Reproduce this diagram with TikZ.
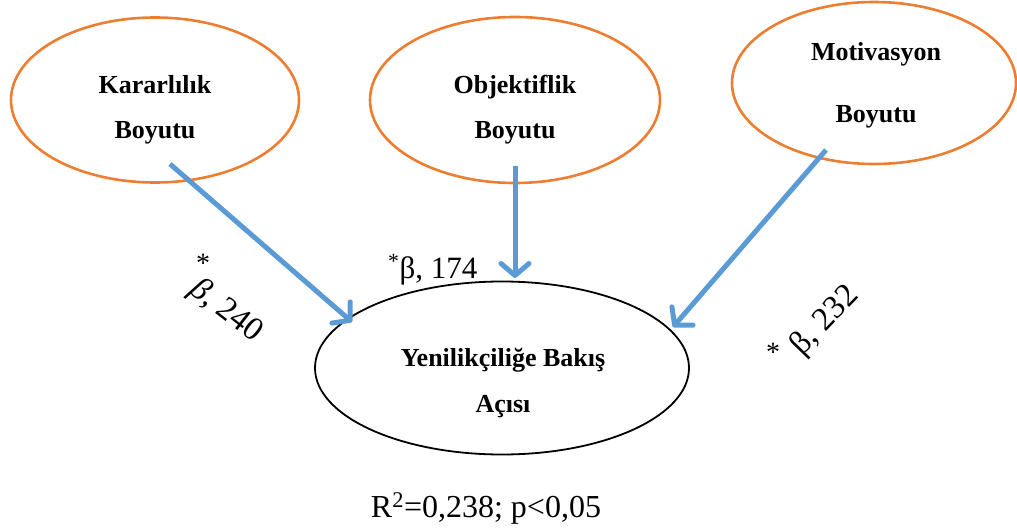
\documentclass[tikz,border=0pt]{standalone}
\usepackage{fontspec}
\setmainfont{Liberation Serif}
\usetikzlibrary{shapes.geometric,arrows.meta}
\definecolor{ellorange}{HTML}{ED7D31}
\definecolor{arrblue}{HTML}{5B9BD5}
\tikzset{
  x=1pt,y=1pt,
  dimbox/.style={ellipse,draw=ellorange,line width=2.6pt,inner sep=0pt},
  mainbox/.style={ellipse,draw=black,line width=1.8pt,inner sep=0pt},
  boldlbl/.style={anchor=base,inner sep=0pt,font=\fontsize{26}{30}\selectfont\bfseries},
  coef/.style={inner sep=0pt,font=\fontsize{31}{34}\selectfont},
  rotcoef/.style={inner sep=0pt,font=\fontsize{33}{36}\selectfont},
  starlbl/.style={inner sep=0pt,font=\fontsize{28}{30}\selectfont},
  link/.style={draw=arrblue,line width=5pt,-{Straight Barb[round,length=12pt,width=28pt]}}
}
\begin{document}
\begin{tikzpicture}
\useasboundingbox (0,0) rectangle (1017,-532);
% ellipses
\node[dimbox,minimum width=288,minimum height=165] (k) at (155,-100) {};
\node[dimbox,minimum width=290,minimum height=166] (o) at (515,-100) {};
\node[dimbox,minimum width=284,minimum height=162] (m) at (874,-83) {};
\node[mainbox,minimum width=374,minimum height=173] (y) at (502,-368) {};
% texts
\node[boldlbl] (k1) at (155,-94) {Kararlılık};
\node[boldlbl] (k2) at (155,-139) {Boyutu};
\node[boldlbl] (o1) at (515,-94) {Objektiflik};
\node[boldlbl] (o2) at (515,-139) {Boyutu};
\node[boldlbl] (m1) at (876,-61) {Motivasyon};
\node[boldlbl] (m2) at (876,-123) {Boyutu};
\node[boldlbl] (y1) at (503,-366) {Yenilikçiliğe Bakış};
\node[boldlbl] (y2) at (503,-412) {Açısı};
% arrow starts and ends
\coordinate (ks) at (170,-164);
\coordinate (os) at (515,-166);
\coordinate (ms) at (826,-150);
\coordinate (ye1) at (352,-322);
\coordinate (ye2) at (515,-278);
\coordinate (ye3) at (673,-327);
\draw[link] (ks) -- (ye1);
\draw[link] (os) -- (ye2);
\draw[link] (ms) -- (ye3);
% coefficient labels
\node[starlbl] (s1) at (203,-263) {*};
\node[rotcoef,rotate=-38] (c1) at (226,-311) {\textit{β}, 240};
\node[coef,anchor=base west] (c2) at (388,-278) {\textsuperscript{*}β, 174};
\node[starlbl] (s3) at (773,-352) {*};
\node[rotcoef,rotate=46] (c3) at (825,-321) {β, 232};
% fit statistic
\node[anchor=base,inner sep=0pt,font=\fontsize{32}{36}\selectfont] (r) at (486,-517) {R\textsuperscript{2}=0,238; p<0,05};
\end{tikzpicture}
\end{document}
